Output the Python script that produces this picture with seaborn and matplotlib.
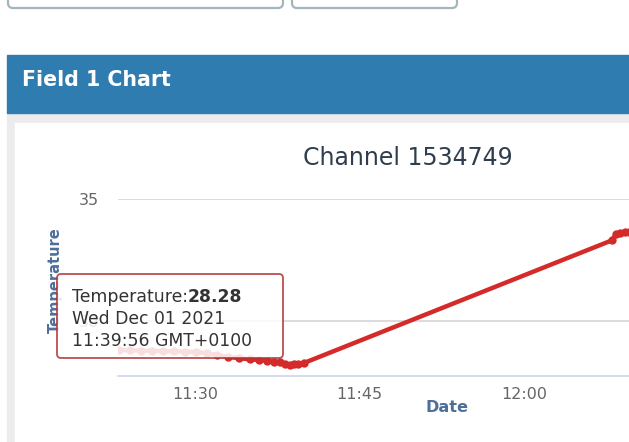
import pandas as pd
import numpy as np
import matplotlib.pyplot as plt
import matplotlib.dates as mdates
from matplotlib.patches import Rectangle, FancyBboxPatch
import seaborn as sns

# ==========================================
# 1. Data
# ==========================================
times = ["11:23:00", "11:24:00", "11:25:00", "11:26:00", "11:27:00", "11:28:00",
         "11:29:00", "11:30:00", "11:31:00", "11:32:00", "11:33:00", "11:34:00",
         "11:35:00", "11:35:48", "11:36:30", "11:37:12", "11:37:42", "11:38:12",
         "11:38:36", "11:39:00", "11:39:24", "11:39:56",
         "12:08:00", "12:08:24", "12:08:48", "12:09:12", "12:09:36"]
temps = [28.80, 28.79, 28.78, 28.77, 28.76, 28.75,
         28.74, 28.72, 28.68, 28.60, 28.52, 28.47,
         28.42, 28.40, 28.36, 28.33, 28.30, 28.24,
         28.20, 28.25, 28.22, 28.28,
         33.30, 33.55, 33.62, 33.63, 33.64]
y_ticks = [30, 35]
tooltip_lines = ["Wed Dec 01 2021", "11:39:56 GMT+0100"]

df = pd.DataFrame({"Date": pd.to_datetime(["2021-12-01 " + t for t in times]),
                   "Temperature": temps})

W, H = 629, 442
sns.set_theme(style="white")
plt.rcParams['font.family'] = ['DejaVu Sans']

fig = plt.figure(figsize=(W / 100, H / 100), dpi=100)

# ==========================================
# 2. Page background (pixel coordinates)
# ==========================================
bg = fig.add_axes([0, 0, 1, 1], zorder=0)
bg.set_xlim(0, W)
bg.set_ylim(H, 0)
bg.axis('off')
bg.add_patch(FancyBboxPatch((8, -30), 275, 38, boxstyle="round,pad=0,rounding_size=5",
                            fc='white', ec='#a5b5bd', lw=1.6))
bg.add_patch(FancyBboxPatch((292, -30), 165, 38, boxstyle="round,pad=0,rounding_size=5",
                            fc='white', ec='#a5b5bd', lw=1.6))
bg.add_patch(Rectangle((7, 113), W - 7, H - 113, color='#ececec'))
bg.add_patch(Rectangle((15, 123), W - 15, H - 123, color='white'))
bg.add_patch(Rectangle((7, 55), W - 7, 58, color='#2f7cb1'))
bg.text(22, 80, "Field 1 Chart", color='white', fontsize=14.8, fontweight='bold', va='center')
bg.text(408, 158, "Channel 1534749", color='#2f3e4e', fontsize=17, ha='center', va='center')

# ==========================================
# 3. Chart
# ==========================================
left, right, top, bottom = 118, W, 199, 376
ax = fig.add_axes([left / W, 1 - bottom / H, (right - left) / W, (bottom - top) / H], zorder=2)
ax.patch.set_alpha(0)

sns.lineplot(data=df, x="Date", y="Temperature", ax=ax, color='#d42a2a', lw=3.2,
             marker='o', markersize=6, markeredgewidth=0, estimator=None)

ax.set_ylim(27.74, 35)
ax.set_xlim(pd.Timestamp("2021-12-01 11:22:55"), pd.Timestamp("2021-12-01 12:09:35"))
ax.set_yticks(y_ticks)
ax.yaxis.grid(True, color='#d6d6d6', lw=1.2)
ax.xaxis.set_major_locator(mdates.MinuteLocator(byminute=[0, 15, 30, 45]))
ax.xaxis.set_major_formatter(mdates.DateFormatter('%H:%M'))
for s in ['top', 'right', 'left']:
    ax.spines[s].set_visible(False)
ax.spines['bottom'].set_color('#ccd6eb')
ax.spines['bottom'].set_linewidth(1.2)
ax.tick_params(axis='x', colors='#666666', labelsize=11.5, length=5, width=1, direction='out',
               pad=3, color='#ccd6eb')
ax.tick_params(axis='y', colors='#666666', labelsize=11.5, length=0, pad=14)
ax.set_xlabel("Date", color='#4d6f99', fontsize=11.6, fontweight='bold')
ax.set_ylabel("Temperature", color='#4d6f99', fontsize=10.5, fontweight='bold')
ax.xaxis.set_label_coords((447 - left) / (right - left), -(408 - bottom) / (bottom - top))
ax.yaxis.set_label_coords((55 - left) / (right - left), (bottom - 280) / (bottom - top))
ax.xaxis.label.set_verticalalignment('center')
ax.yaxis.label.set_verticalalignment('center')

# ==========================================
# 4. Tooltip overlay
# ==========================================
ov = fig.add_axes([0, 0, 1, 1], zorder=5)
ov.set_xlim(0, W)
ov.set_ylim(H, 0)
ov.axis('off')
ov.patch.set_alpha(0)
ov.add_patch(FancyBboxPatch((57, 274), 226, 84, boxstyle="round,pad=0,rounding_size=4",
                            fc='white', ec='#b03030', lw=1.3, alpha=0.85))
t1 = ov.text(72, 302, "Temperature:", fontsize=12.4, color='#333333', va='baseline')
fig.canvas.draw()
bb = t1.get_window_extent()
x1 = ov.transData.inverted().transform((bb.x1, bb.y0))[0]
ov.text(x1, 302, f"{temps[-6]:.2f}", fontsize=12.4, color='#333333', fontweight='bold', va='baseline')
for i, line in enumerate(tooltip_lines):
    ov.text(72, 324 + 22 * i, line, fontsize=12.4, color='#333333', va='baseline')

plt.savefig('out.png', dpi=100)
